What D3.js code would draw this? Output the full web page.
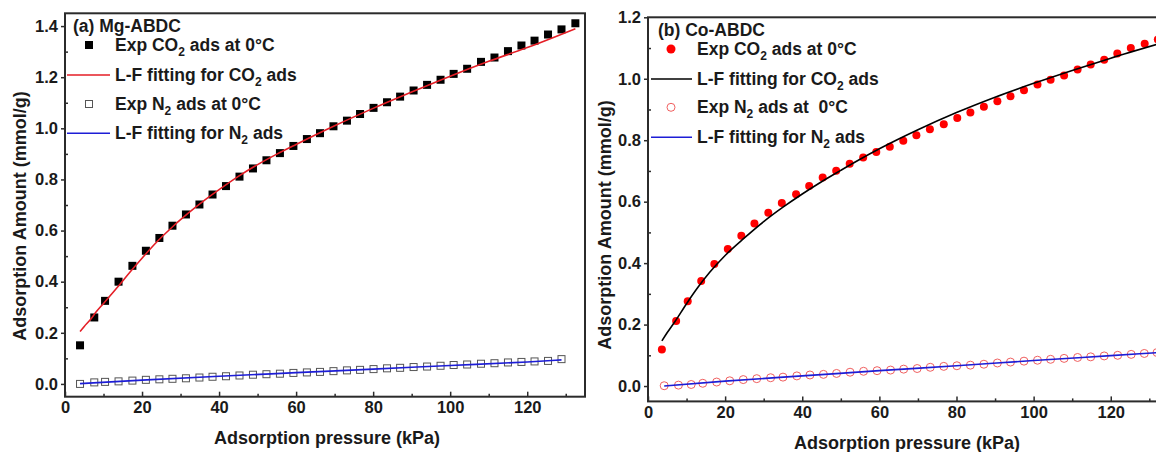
<!DOCTYPE html>
<html>
<head>
<meta charset="utf-8">
<script src="https://cdn.jsdelivr.net/npm/d3@7"></script>
<style>
    body { margin: 0; background: #fff; }
    svg { display: block; font-family: 'Liberation Sans', Arial, sans-serif; font-weight: bold; }
</style>
</head>
<body>
<svg width="1156" height="452"></svg>
<script>

// ---- (a) Mg-ABDC ----
const mgCo2P = [3.9, 7.6, 10.4, 13.9, 17.5, 21.0, 24.5, 27.9, 31.4, 34.9, 38.3, 41.8, 45.3, 48.8, 52.3, 55.8, 59.3, 62.8, 66.2, 69.7,
    73.2, 76.6, 80.1, 83.6, 87.0, 90.5, 94.0, 97.5, 100.9, 104.4, 108.0, 111.5, 115.0, 118.5, 121.9, 125.4, 128.9, 132.5]
const mgCo2Q = [0.151, 0.260, 0.325, 0.400, 0.462, 0.521, 0.571, 0.619, 0.663, 0.702, 0.741, 0.774, 0.811, 0.843, 0.875, 0.903, 0.931, 0.958, 0.981, 1.008,
    1.030, 1.056, 1.080, 1.102, 1.124, 1.148, 1.170, 1.190, 1.213, 1.233, 1.260, 1.277, 1.302, 1.324, 1.343, 1.367, 1.387, 1.411]

const mgN2P = [3.9, 7.6, 10.4, 13.9, 17.5, 21.0, 24.5, 27.9, 31.4, 34.9, 38.3, 41.8, 45.3, 48.8, 52.3, 55.8, 59.3, 62.8, 66.2, 69.7,
    73.2, 76.6, 80.1, 83.6, 87.0, 90.5, 94.0, 97.5, 100.9, 104.4, 108.0, 111.5, 115.0, 118.5, 121.9, 125.4, 128.9]
const mgN2Q = [0.000, 0.006, 0.008, 0.010, 0.013, 0.016, 0.018, 0.020, 0.022, 0.025, 0.028, 0.030, 0.033, 0.036, 0.038, 0.040, 0.043, 0.045, 0.047, 0.050,
    0.053, 0.055, 0.058, 0.061, 0.063, 0.066, 0.068, 0.071, 0.074, 0.076, 0.079, 0.081, 0.084, 0.086, 0.088, 0.090, 0.097]

const mgCo2FitP = [3.9, 5, 6.5, 8, 10, 12, 14, 17, 20, 24, 28, 32, 36, 40, 45, 50, 55, 60, 70, 80, 90, 100, 110, 120, 132.5]
const mgCo2FitQ = [0.205, 0.225, 0.250, 0.280, 0.315, 0.350, 0.385, 0.440, 0.492, 0.558, 0.616, 0.668, 0.716, 0.760, 0.812, 0.858, 0.899, 0.937, 1.010, 1.078, 1.142, 1.204, 1.262, 1.316, 1.390]

const mgN2FitP = [3.9, 20, 40, 60, 80, 100, 120, 128.9]
const mgN2FitQ = [0.001, 0.015, 0.030, 0.044, 0.058, 0.072, 0.086, 0.094]

// ---- (b) Co-ABDC ----
const coCo2P = [3.6, 7.3, 10.3, 13.8, 17.2, 20.7, 24.2, 27.6, 31.2, 34.7, 38.4, 41.8, 45.3, 48.8, 52.3, 55.8, 59.2, 62.7, 66.2, 69.6,
    73.1, 76.7, 80.2, 83.6, 87.1, 90.6, 94.0, 97.5, 101.0, 104.4, 107.9, 111.4, 114.8, 118.3, 121.7, 125.2, 128.8, 132.2]
const coCo2Q = [0.119, 0.212, 0.276, 0.342, 0.397, 0.446, 0.489, 0.529, 0.564, 0.596, 0.624, 0.651, 0.679, 0.701, 0.723, 0.744, 0.762, 0.779, 0.798, 0.816,
    0.836, 0.852, 0.872, 0.890, 0.909, 0.927, 0.943, 0.963, 0.981, 0.997, 1.011, 1.030, 1.046, 1.062, 1.082, 1.100, 1.114, 1.128]

const coN2P = [4.2, 7.9, 11.2, 14.2, 17.8, 21.2, 24.7, 28.2, 31.8, 35.0, 38.6, 42.0, 45.5, 48.9, 52.4, 55.9, 59.4, 62.9, 66.3, 69.8,
    73.2, 76.7, 80.1, 83.6, 87.1, 90.6, 94.0, 97.5, 101.0, 104.4, 107.9, 111.4, 114.8, 118.3, 121.8, 125.3, 128.7, 132.0]
const coN2Q = [0.001, 0.003, 0.005, 0.009, 0.013, 0.017, 0.021, 0.024, 0.027, 0.029, 0.033, 0.036, 0.038, 0.041, 0.045, 0.048, 0.050, 0.052, 0.055, 0.057,
    0.061, 0.064, 0.066, 0.068, 0.071, 0.075, 0.078, 0.081, 0.084, 0.087, 0.090, 0.093, 0.095, 0.098, 0.100, 0.103, 0.106, 0.109]

const coCo2FitP = [3.6, 5, 7, 10, 13, 16, 20, 25, 30, 35, 40, 45, 50, 55, 60, 70, 80, 90, 100, 110, 120, 132]
const coCo2FitQ = [0.147, 0.174, 0.210, 0.268, 0.322, 0.370, 0.425, 0.482, 0.535, 0.582, 0.625, 0.665, 0.702, 0.738, 0.772, 0.834, 0.890, 0.940, 0.985, 1.027, 1.067, 1.112]

const coN2FitP = [4.2, 20, 40, 60, 80, 100, 120, 135]
const coN2FitQ = [0.000, 0.016, 0.033, 0.050, 0.066, 0.083, 0.099, 0.111]

// axis ticks + labels
const xTicks = [0, 20, 40, 60, 80, 100, 120]
const xMinor = [10, 30, 50, 70, 90, 110, 130]
const mgYTicks = [0.0, 0.2, 0.4, 0.6, 0.8, 1.0, 1.2, 1.4]
const mgYMinor = [0.1, 0.3, 0.5, 0.7, 0.9, 1.1, 1.3]
const coYTicks = [0.0, 0.2, 0.4, 0.6, 0.8, 1.0, 1.2]
const coYMinor = [0.1, 0.3, 0.5, 0.7, 0.9, 1.1]

const xTitle = 'Adsorption pressure (kPa)'
const yTitle = 'Adsorption Amount (mmol/g)'
const mgTitle = '(a) Mg-ABDC'
const coTitle = '(b) Co-ABDC'
// [before subscript, subscript, after subscript]
const mgLegend = [['Exp CO', '2', ' ads at 0\u00b0C'], ['L-F fitting for CO', '2', ' ads'], ['Exp N', '2', ' ads at 0\u00b0C'], ['L-F fitting for N', '2', ' ads']]
const coLegend = [['Exp CO', '2', ' ads at 0\u00b0C'], ['L-F fitting for CO', '2', ' ads'], ['Exp N', '2', ' ads at  0\u00b0C'], ['L-F fitting for N', '2', ' ads']]

const svg = d3.select('svg')
const axisColour = '#2b2b2b'

let drawPanel = (p) => {

    let xScale = d3.scaleLinear().domain([0, 135]).range([p.left, p.right])
    let yScale = d3.scaleLinear().domain(p.yDomain).range([p.bottom, p.top])

    let g = svg.append('g')

    // minor ticks (inside)
    g.append('g')
        .attr('transform', 'translate(0, '+ p.bottom +')')
        .call(d3.axisBottom(xScale).tickValues(xMinor).tickSize(-3).tickFormat(''))
    g.append('g')
        .attr('transform', 'translate('+ p.left +', 0)')
        .call(d3.axisLeft(yScale).tickValues(p.yMinor).tickSize(-3).tickFormat(''))

    // major ticks
    g.append('g')
        .attr('transform', 'translate(0, '+ p.bottom +')')
        .call(d3.axisBottom(xScale).tickValues(xTicks).tickSizeInner(-5).tickSizeOuter(0).tickPadding(5).tickFormat(d3.format('d')))
    g.append('g')
        .attr('transform', 'translate('+ p.left +', 0)')
        .call(d3.axisLeft(yScale).tickValues(p.yTicks).tickSizeInner(4).tickSizeOuter(0).tickPadding(3).tickFormat(d3.format('.1f')))

    g.selectAll('.domain').remove()
    g.selectAll('.tick line').attr('stroke', axisColour).attr('stroke-width', 1.5)
    g.selectAll('.tick text')
        .attr('fill', '#1a1a1a')
        .style('font-family', "'Liberation Sans', Arial, sans-serif")
        .style('font-weight', 'bold')
        .style('font-size', '16.5px')

    // frame
    g.append('rect')
        .attr('x', p.left)
        .attr('y', p.top)
        .attr('width', p.right - p.left)
        .attr('height', p.bottom - p.top)
        .attr('fill', 'none')
        .attr('stroke', axisColour)
        .attr('stroke-width', 2)

    let line = d3.line()
        .x((d) => { return xScale(d[0]) })
        .y((d) => { return yScale(d[1]) })
        .curve(d3.curveMonotoneX)

    // N2 markers first, then fit line on top
    if (p.marker === 'square') {
        g.selectAll('.n2').data(d3.zip(p.n2P, p.n2Q)).enter()
            .append('rect')
            .attr('x', (d) => { return xScale(d[0]) - 3.5 })
            .attr('y', (d) => { return yScale(d[1]) - 3.5 })
            .attr('width', 7)
            .attr('height', 7)
            .attr('fill', 'none')
            .attr('stroke', '#555')
            .attr('stroke-width', 1)
    } else {
        g.selectAll('.n2').data(d3.zip(p.n2P, p.n2Q)).enter()
            .append('circle')
            .attr('cx', (d) => { return xScale(d[0]) })
            .attr('cy', (d) => { return yScale(d[1]) })
            .attr('r', 4)
            .attr('fill', 'none')
            .attr('stroke', '#f06060')
            .attr('stroke-width', 1)
    }
    g.append('path')
        .datum(d3.zip(p.n2FitP, p.n2FitQ))
        .attr('d', line)
        .attr('fill', 'none')
        .attr('stroke', '#1d1dd6')
        .attr('stroke-width', 1.6)

    // CO2 markers + fit
    if (p.marker === 'square') {
        g.selectAll('.co2').data(d3.zip(p.co2P, p.co2Q)).enter()
            .append('rect')
            .attr('x', (d) => { return xScale(d[0]) - 4 })
            .attr('y', (d) => { return yScale(d[1]) - 4 })
            .attr('width', 8)
            .attr('height', 8)
            .attr('fill', '#000')
    } else {
        g.selectAll('.co2').data(d3.zip(p.co2P, p.co2Q)).enter()
            .append('circle')
            .attr('cx', (d) => { return xScale(d[0]) })
            .attr('cy', (d) => { return yScale(d[1]) })
            .attr('r', 4)
            .attr('fill', '#ff0000')
    }
    g.append('path')
        .datum(d3.zip(p.co2FitP, p.co2FitQ))
        .attr('d', line)
        .attr('fill', 'none')
        .attr('stroke', p.co2FitColour)
        .attr('stroke-width', 1.6)

    // axis titles
    g.append('text')
        .attr('x', p.xTitleX)
        .attr('y', p.xTitleY)
        .style('text-anchor', 'middle')
        .style('font-size', '18px')
        .attr('fill', '#1a1a1a')
        .text(xTitle)

    g.append('text')
        .attr('transform', 'translate('+ p.yTitleX +', '+ p.yTitleY +') rotate(-90)')
        .style('text-anchor', 'middle')
        .style('font-size', '18px')
        .attr('fill', '#1a1a1a')
        .text(yTitle)

    // legend
    let lg = p.legend
    g.append('text')
        .attr('x', lg.titleX)
        .attr('y', lg.titleY)
        .style('font-size', lg.fontSize + 'px')
        .attr('fill', '#1a1a1a')
        .text(p.title)

    p.legendText.forEach((parts, i) => {
        let t = g.append('text')
            .attr('x', lg.textX)
            .attr('y', lg.rowY[i])
            .style('font-size', lg.fontSize + 'px')
            .style('white-space', 'pre')
            .attr('fill', '#1a1a1a')
        t.append('tspan').text(parts[0])
        t.append('tspan').attr('dy', 5).style('font-size', '12px').text(parts[1])
        t.append('tspan').attr('dy', -5).text(parts[2])
    })

    let cy = (i) => { return lg.rowY[i] - 6 }

    if (p.marker === 'square') {
        g.append('rect').attr('x', lg.symX - 4).attr('y', cy(0) - 4).attr('width', 8).attr('height', 8).attr('fill', '#000')
        g.append('rect').attr('x', lg.symX - 3.5).attr('y', cy(2) - 3.5).attr('width', 7).attr('height', 7)
            .attr('fill', 'none').attr('stroke', '#555').attr('stroke-width', 1)
    } else {
        g.append('circle').attr('cx', lg.symX).attr('cy', cy(0)).attr('r', 4.5).attr('fill', '#ff0000')
        g.append('circle').attr('cx', lg.symX).attr('cy', cy(2)).attr('r', 4).attr('fill', 'none')
            .attr('stroke', '#f06060').attr('stroke-width', 1)
    }
    g.append('line').attr('x1', lg.lineX1).attr('x2', lg.lineX2).attr('y1', cy(1)).attr('y2', cy(1))
        .attr('stroke', p.co2FitColour).attr('stroke-width', 1.6)
    g.append('line').attr('x1', lg.lineX1).attr('x2', lg.lineX2).attr('y1', cy(3)).attr('y2', cy(3))
        .attr('stroke', '#1d1dd6').attr('stroke-width', 1.6)
}

drawPanel({
    left: 65, right: 585, top: 13.3, bottom: 396.7,
    yDomain: [-0.05, 1.45], yTicks: mgYTicks, yMinor: mgYMinor,
    marker: 'square', co2FitColour: '#e41e26',
    co2P: mgCo2P, co2Q: mgCo2Q, n2P: mgN2P, n2Q: mgN2Q,
    co2FitP: mgCo2FitP, co2FitQ: mgCo2FitQ, n2FitP: mgN2FitP, n2FitQ: mgN2FitQ,
    xTitleX: 327, xTitleY: 444, yTitleX: 26, yTitleY: 216,
    title: mgTitle, legendText: mgLegend,
    legend: { titleX: 73, titleY: 32.3, textX: 115, rowY: [51, 81, 110, 139.3], symX: 89, lineX1: 67, lineX2: 110, fontSize: 17.5 }
})

drawPanel({
    left: 648, right: 1168.6, top: 17.3, bottom: 401.4,
    yDomain: [-0.05, 1.2], yTicks: coYTicks, yMinor: coYMinor,
    marker: 'circle', co2FitColour: '#000',
    co2P: coCo2P, co2Q: coCo2Q, n2P: coN2P, n2Q: coN2Q,
    co2FitP: coCo2FitP, co2FitQ: coCo2FitQ, n2FitP: coN2FitP, n2FitQ: coN2FitQ,
    xTitleX: 907, xTitleY: 449, yTitleX: 611, yTitleY: 225,
    title: coTitle, legendText: coLegend,
    legend: { titleX: 658, titleY: 36, textX: 697, rowY: [55, 85, 113.3, 143.3], symX: 671, lineX1: 651, lineX2: 692, fontSize: 17.5 }
})

</script>
</body>
</html>
